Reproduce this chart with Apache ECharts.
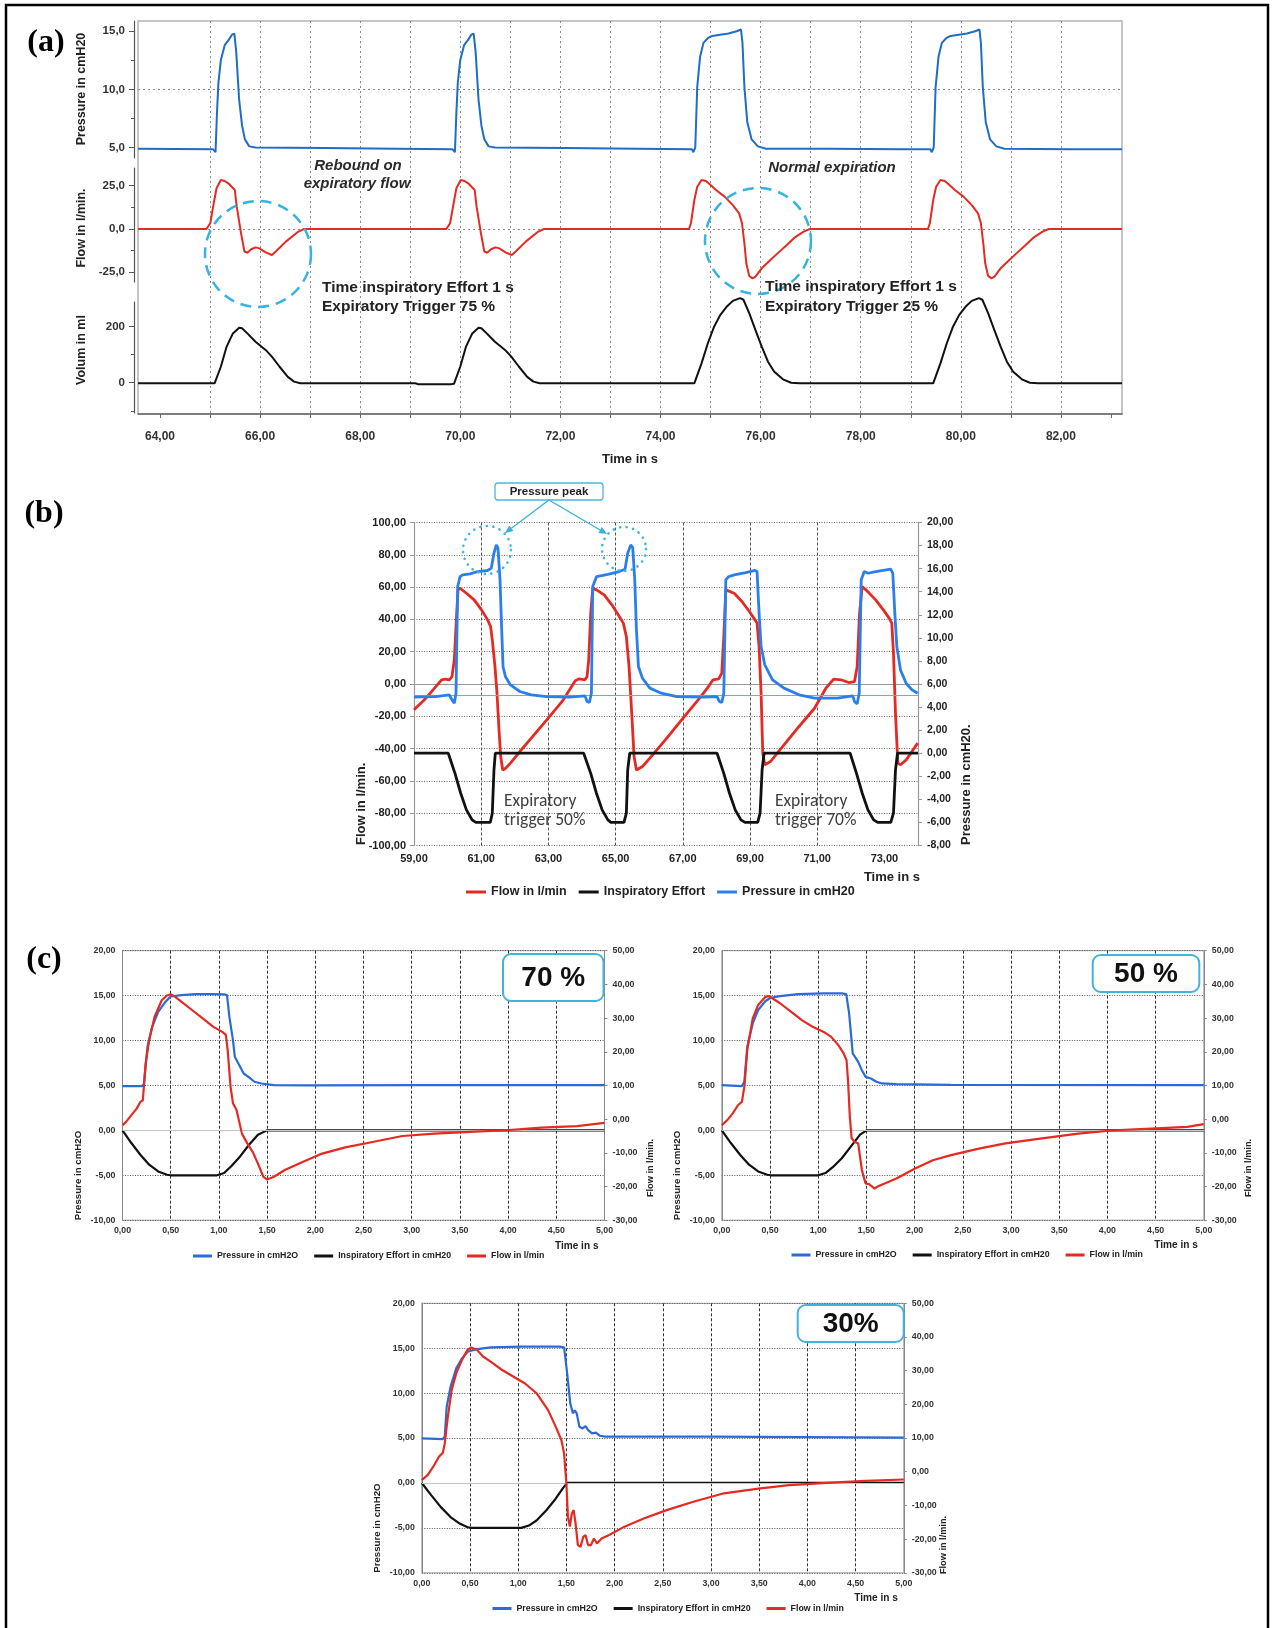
<!DOCTYPE html>
<html>
<head>
<meta charset="utf-8">
<script src="https://cdn.jsdelivr.net/npm/echarts@6.0.0/dist/echarts.min.js"></script>
<style>
html,body{margin:0;padding:0;background:#fff;}
#chart{width:1274px;height:1628px;}
</style>
</head>
<body>
<div id="chart"></div>
<script>
// ================= DATA =================
// Panel (a): ventilator traces, time in s
const aXRange = [63.56, 83.22];
const aTickX = [64,65,66,67,68,69,70,71,72,73,74,75,76,77,78,79,80,81,82,83];
const aLabelX = [64,66,68,70,72,74,76,78,80,82];
const aPressTicks = [5, 10, 15];
const aPressMinor = [7.5, 12.5];
const aFlowTicks = [-25, 0, 25];
const aFlowMinor = [-12.5, 12.5];
const aVolTicks = [0, 200];
const aVolMinor = [-100, 100];

const aPressure = [[63.56,4.9],[65.061,4.85],[65.109,4.6],[65.138,8.0],[65.167,10.6],[65.215,12.5],[65.292,13.8],[65.379,14.3],[65.437,14.7],[65.485,14.8],[65.523,13.2],[65.581,9.1],[65.639,6.9],[65.696,5.7],[65.783,5.1],[65.908,5.0],[67.275,4.95],[68.718,4.9],[69.844,4.85],[69.892,4.6],[69.921,8.0],[69.950,10.6],[69.998,12.5],[70.075,13.8],[70.162,14.3],[70.219,14.7],[70.267,14.8],[70.306,13.2],[70.364,9.1],[70.421,6.9],[70.479,5.7],[70.566,5.1],[70.691,5.0],[72.086,4.95],[73.530,4.9],[74.627,4.85],[74.656,4.6],[74.694,5.0],[74.733,10.2],[74.790,12.8],[74.858,14.0],[74.944,14.4],[75.031,14.6],[75.195,14.7],[75.358,14.8],[75.522,15.0],[75.608,15.15],[75.637,14.0],[75.676,10.2],[75.733,7.2],[75.820,5.7],[75.945,5.1],[76.109,4.9],[77.379,4.9],[78.823,4.85],[79.390,4.85],[79.419,4.6],[79.458,5.0],[79.496,10.2],[79.554,12.8],[79.621,14.0],[79.708,14.4],[79.795,14.6],[79.958,14.7],[80.122,14.8],[80.285,15.0],[80.372,15.15],[80.401,14.0],[80.439,10.2],[80.497,7.2],[80.584,5.7],[80.709,5.1],[80.872,4.9],[82.191,4.85],[83.22,4.85]];

const aFlow = [[63.56,0],[64.927,0],[65.004,3.3],[65.061,12.9],[65.129,23.5],[65.215,28.3],[65.292,27.7],[65.379,26],[65.494,22.5],[65.533,12.9],[65.619,-2.5],[65.687,-13],[65.745,-13.7],[65.822,-11.7],[65.908,-10.6],[65.985,-11.2],[66.110,-13.5],[66.235,-15],[66.312,-13],[66.514,-7.3],[66.765,-1.5],[66.880,0],[69.719,0],[69.796,3.3],[69.854,12.9],[69.921,23.5],[70.008,28.3],[70.085,27.7],[70.171,26],[70.287,22.5],[70.325,12.9],[70.412,-2.5],[70.479,-13],[70.537,-13.7],[70.614,-11.7],[70.701,-10.6],[70.778,-11.2],[70.903,-13.5],[71.028,-15],[71.105,-13],[71.307,-7.3],[71.557,-1.5],[71.672,0],[74.569,0],[74.608,3.3],[74.675,16.7],[74.733,24.4],[74.819,28.3],[74.906,27.7],[74.983,25.8],[75.108,22.5],[75.281,18.7],[75.445,13.8],[75.570,9],[75.628,3.3],[75.676,-8.3],[75.714,-19.8],[75.772,-27.1],[75.839,-28.5],[75.897,-27.5],[76.022,-22.7],[76.195,-17.9],[76.359,-13.5],[76.523,-9.2],[76.686,-4.8],[76.859,-1.5],[76.985,0],[79.342,0],[79.381,3.3],[79.448,16.7],[79.506,24.4],[79.592,28.3],[79.679,27.7],[79.756,25.8],[79.881,22.5],[80.054,18.7],[80.218,13.8],[80.343,9],[80.401,3.3],[80.449,-8.3],[80.487,-19.8],[80.545,-27.1],[80.613,-28.5],[80.670,-27.5],[80.795,-22.7],[80.969,-17.9],[81.132,-13.5],[81.296,-9.2],[81.459,-4.8],[81.633,-1.5],[81.758,0],[83.22,0]];

const aVolume = [[63.56,-2],[65.090,-2],[65.215,57],[65.331,129],[65.456,176],[65.581,196],[65.639,194],[65.745,176],[65.908,146],[66.110,117],[66.235,93],[66.389,57],[66.553,21],[66.678,4],[66.803,-2],[69.103,-2],[69.151,-5],[69.825,-5],[69.873,-4],[69.998,57],[70.114,129],[70.239,176],[70.364,196],[70.421,194],[70.527,176],[70.691,146],[70.893,117],[71.018,93],[71.172,57],[71.336,21],[71.461,4],[71.586,-2],[74.675,-2],[74.819,69],[74.944,140],[75.070,200],[75.195,242],[75.320,271],[75.445,292],[75.589,302],[75.657,296],[75.772,248],[75.897,188],[76.022,129],[76.147,75],[76.272,39],[76.446,12],[76.609,0],[76.773,-2],[79.448,-2],[79.592,69],[79.718,140],[79.843,200],[79.968,242],[80.093,271],[80.218,292],[80.362,302],[80.430,296],[80.545,248],[80.670,188],[80.795,129],[80.920,75],[81.046,39],[81.219,12],[81.382,0],[81.546,-2],[83.22,-2]];

// Panel (b)
const bXTicks = [59,61,63,65,67,69,71,73];
const bFlow = [[59.0,-16],[59.31,-9.8],[59.65,-1.6],[59.82,2.6],[59.93,3.0],[60.05,2.6],[60.13,4.6],[60.20,15],[60.25,35.6],[60.31,58.3],[60.37,59.3],[60.56,56.2],[60.79,52.1],[61.01,45.9],[61.19,39.7],[61.28,35.6],[61.33,27.3],[61.41,10.8],[61.47,-5.7],[61.53,-28.4],[61.58,-44.9],[61.64,-53.2],[61.72,-52.3],[61.87,-49],[62.15,-41.8],[62.49,-33.5],[62.95,-22.2],[63.41,-10.8],[63.63,-3.6],[63.80,2],[63.92,3.2],[64.09,2.6],[64.15,4.6],[64.20,15],[64.26,43.9],[64.32,59.3],[64.43,58.3],[64.66,55.2],[64.89,49],[65.11,41.8],[65.23,37.7],[65.32,29.4],[65.40,10.8],[65.48,-18.1],[65.55,-44.9],[65.62,-53.2],[65.80,-51.1],[66.02,-45.9],[66.48,-34.6],[67.05,-20.1],[67.50,-8.8],[67.73,-2.6],[67.90,2.6],[68.07,3.2],[68.16,6.7],[68.22,29.4],[68.28,58.3],[68.32,59.3],[68.53,56.2],[68.76,51.1],[68.98,44.9],[69.15,39.7],[69.21,37.7],[69.27,23.2],[69.33,-5.7],[69.38,-42.8],[69.44,-50],[69.61,-48],[69.89,-40.8],[70.46,-26.3],[70.92,-15],[71.26,-2.6],[71.49,3.0],[71.71,2.6],[71.94,0.9],[72.11,1.5],[72.19,10.8],[72.26,43.9],[72.34,60.4],[72.45,58.3],[72.74,52.1],[72.97,45.9],[73.14,40.8],[73.22,37.7],[73.27,19.1],[73.33,-18.1],[73.40,-49],[73.48,-50],[73.65,-47],[73.82,-41.8],[73.99,-36.6]];
const bEffort = [[59.0,0],[60.02,0],[60.22,-1.75],[60.39,-3.47],[60.56,-4.91],[60.73,-5.78],[60.84,-6],[61.27,-6],[61.33,-5.2],[61.38,-1.45],[61.42,0],[64.05,0],[64.26,-1.75],[64.43,-3.47],[64.60,-4.91],[64.77,-5.78],[64.86,-6],[65.25,-6],[65.32,-5.2],[65.36,-1.45],[65.42,0],[68.02,0],[68.22,-1.75],[68.39,-3.47],[68.56,-4.91],[68.73,-5.78],[68.85,-6],[69.23,-6],[69.30,-5.2],[69.36,-1.45],[69.42,0],[71.98,0],[72.17,-1.75],[72.34,-3.47],[72.51,-4.91],[72.68,-5.78],[72.80,-6],[73.19,-6],[73.27,-5.2],[73.33,-1.45],[73.39,0],[74.0,0]];
const bPressure = [[59.0,4.86],[59.65,4.91],[60.05,5.06],[60.13,4.62],[60.20,4.34],[60.25,5.2],[60.30,14.45],[60.37,15.3],[60.45,15.46],[60.67,15.55],[60.90,15.75],[61.19,15.84],[61.30,16.04],[61.38,17.34],[61.45,18.06],[61.50,17.77],[61.56,15.03],[61.61,10.7],[61.65,7.51],[61.72,6.65],[61.87,5.92],[62.15,5.35],[62.49,5.06],[62.95,4.91],[63.63,4.86],[64.09,4.97],[64.15,4.48],[64.22,4.39],[64.28,5.2],[64.32,14.45],[64.43,15.3],[64.77,15.5],[65.11,15.75],[65.28,15.95],[65.36,17.34],[65.45,18.06],[65.51,17.8],[65.57,15.03],[65.62,10.7],[65.68,7.5],[65.80,6.5],[66.02,5.64],[66.36,5.2],[66.82,4.91],[67.62,4.86],[68.02,4.91],[68.09,4.48],[68.16,4.39],[68.22,5.2],[68.28,15.03],[68.36,15.3],[68.53,15.46],[68.87,15.66],[69.15,15.84],[69.21,15.75],[69.27,12.14],[69.33,9.25],[69.44,7.66],[69.67,6.36],[70.01,5.64],[70.46,5.06],[70.92,4.77],[71.60,4.77],[72.06,4.97],[72.11,4.48],[72.19,4.28],[72.25,5.2],[72.31,15.03],[72.40,15.75],[72.51,15.6],[72.74,15.75],[73.19,15.95],[73.25,15.6],[73.31,12.14],[73.37,9.25],[73.48,7.2],[73.65,6.04],[73.82,5.5],[73.99,5.2]];

// Panel (c): 70 %, 50 %, 30 % expiratory trigger
const c70Pressure = [[0,4.92],[0.20,4.92],[0.222,5.15],[0.259,9.3],[0.307,11.5],[0.37,13.2],[0.444,14.3],[0.499,14.9],[0.61,15.06],[0.758,15.17],[0.906,15.17],[1.054,15.13],[1.084,15.06],[1.109,12.6],[1.146,10.05],[1.165,8.2],[1.202,7.45],[1.257,6.33],[1.313,5.89],[1.368,5.41],[1.442,5.22],[1.572,5.04],[1.942,5.0],[3.051,5.04],[5.0,5.04]];
const c70Effort = [[0,0],[0.092,-1.41],[0.185,-2.71],[0.277,-3.82],[0.37,-4.57],[0.462,-4.94],[0.499,-5],[0.98,-5],[1.054,-4.75],[1.128,-4.0],[1.22,-2.9],[1.313,-1.6],[1.405,-0.48],[1.498,0],[5,0]];
const c70Flow = [[0,-1.8],[0.037,-0.8],[0.092,1.2],[0.148,3.2],[0.185,5.1],[0.211,5.6],[0.24,16.5],[0.277,23.5],[0.333,30.4],[0.407,35.3],[0.462,36.7],[0.499,37.1],[0.536,36.5],[0.61,34.9],[0.721,32.4],[0.832,29.9],[0.943,27.4],[1.036,25.9],[1.072,25],[1.091,20.5],[1.121,9.6],[1.146,4.7],[1.183,2.7],[1.239,-4.3],[1.294,-7.2],[1.35,-9.7],[1.405,-13.2],[1.461,-17.1],[1.498,-17.9],[1.572,-17.1],[1.683,-15.1],[1.868,-12.7],[2.052,-10.4],[2.311,-8.4],[2.607,-6.7],[2.903,-5],[3.236,-4.3],[3.606,-3.8],[3.976,-3.3],[4.345,-2.5],[4.715,-2.1],[5.0,-1.1]];
const c50Pressure = [[0,5.04],[0.208,4.92],[0.234,5.41],[0.264,9.3],[0.321,11.9],[0.377,13.4],[0.453,14.4],[0.509,14.76],[0.604,14.95],[0.792,15.17],[1.057,15.25],[1.245,15.25],[1.291,15.17],[1.321,13.0],[1.358,8.56],[1.415,7.63],[1.453,6.7],[1.491,5.96],[1.547,5.78],[1.604,5.41],[1.66,5.22],[1.811,5.15],[2.377,5.07],[5,5.04]];
const c50Effort = [[0,0],[0.094,-1.41],[0.189,-2.71],[0.283,-3.82],[0.377,-4.57],[0.472,-4.94],[0.509,-5],[1.0,-5],[1.075,-4.75],[1.151,-4.1],[1.245,-3.1],[1.34,-1.78],[1.434,-0.48],[1.502,0],[5,0]];
const c50Flow = [[0,-1.8],[0.057,-0.3],[0.113,1.7],[0.17,4.2],[0.208,5.1],[0.234,9.6],[0.264,20.5],[0.321,29.9],[0.377,33.9],[0.453,36.3],[0.491,36.5],[0.528,35.8],[0.604,34.4],[0.717,31.9],[0.83,29.4],[0.943,27.4],[1.057,25.9],[1.132,24.5],[1.208,22],[1.264,19.5],[1.294,17.5],[1.309,11.6],[1.328,0.7],[1.347,-5.7],[1.377,-6.7],[1.415,-7.2],[1.453,-15.1],[1.491,-19.1],[1.528,-19.3],[1.585,-20.6],[1.623,-19.9],[1.811,-17.6],[2.0,-14.7],[2.189,-12.2],[2.377,-10.7],[2.679,-8.7],[2.943,-7.2],[3.321,-5.7],[3.698,-4.3],[4.075,-3.3],[4.453,-2.8],[4.83,-2.3],[5,-1.5]];
const c30Pressure = [[0,4.96],[0.218,4.89],[0.238,5.15],[0.258,8.49],[0.298,10.7],[0.357,12.76],[0.417,13.87],[0.476,14.6],[0.556,14.87],[0.714,15.1],[1.032,15.17],[1.429,15.17],[1.476,15.1],[1.508,12.2],[1.54,8.86],[1.567,7.75],[1.587,8.1],[1.607,7.75],[1.635,6.26],[1.667,6.07],[1.698,6.33],[1.726,5.89],[1.766,5.52],[1.806,5.6],[1.845,5.26],[1.905,5.15],[2.222,5.15],[3.016,5.15],[5,5.04]];
const c30Effort = [[0,0],[0.099,-1.38],[0.198,-2.69],[0.298,-3.8],[0.397,-4.55],[0.476,-4.93],[0.516,-5],[1.032,-5],[1.111,-4.74],[1.19,-4.18],[1.29,-3.06],[1.389,-1.75],[1.468,-0.52],[1.508,0],[5,0]];
const c30Flow = [[0,-2.5],[0.06,-1],[0.119,1.5],[0.179,4.5],[0.218,5.6],[0.238,8.4],[0.27,16.3],[0.31,24.3],[0.357,29.2],[0.417,33.2],[0.476,36.3],[0.516,36.9],[0.575,36.1],[0.635,34.2],[0.714,32.7],[0.833,30.2],[0.952,28.2],[1.071,26.2],[1.19,23.3],[1.31,18.3],[1.389,13.4],[1.448,9.4],[1.476,5.4],[1.5,-3.5],[1.516,-13.4],[1.536,-16.3],[1.556,-12.4],[1.575,-11.4],[1.595,-15.3],[1.619,-21.8],[1.647,-22.3],[1.675,-19.3],[1.698,-18.8],[1.726,-21.8],[1.754,-21.8],[1.786,-19.8],[1.817,-21.3],[1.865,-19.8],[1.944,-18.8],[2.103,-16.3],[2.302,-13.9],[2.54,-11.4],[2.817,-8.9],[3.135,-6.4],[3.492,-5],[3.81,-4],[4.206,-3.3],[4.603,-2.7],[5,-2.3]];

// ================= RENDER =================
function fontOK(f){
  const c=document.createElement('canvas').getContext('2d');
  const s='abcdefghijklmnopqrstuvwxyz0123456789ABCDEF';
  c.font='40px monospace'; const a=c.measureText(s).width;
  c.font='40px "'+f+'", monospace'; const b=c.measureText(s).width;
  return Math.abs(a-b)>1;
}
const HAS_N = fontOK('Liberation Sans Narrow');
const FN = HAS_N ? 'Liberation Sans Narrow' : 'Liberation Sans';
const nsz = s => HAS_N ? s : +(s*0.84).toFixed(1);
const FS = 'Liberation Sans';

const fmt = d => v => Number(v).toFixed(d).replace('.', ',');
const RED = '#e42a22', BLUE_A = '#1f6dc6', BLUE_B = '#2b7fec', BLUE_C = '#2a6bd8', BLACK = '#111', CYAN = '#36b3de';

const grids=[], xAxes=[], yAxes=[], series=[], legends=[], G=[];
function addGrid(g){ grids.push(Object.assign({containLabel:false, outerBoundsMode:'none'}, g)); return grids.length-1; }
function T(text,x,y,o){ o=o||{}; return {type:'text', x:x, y:y, rotation:o.rot||0, z:100, style:{text:text, fill:o.color||'#222', fontSize:o.size||12, fontWeight:o.weight||'bold', fontStyle:o.style||'normal', fontFamily:o.family||FS, textAlign:o.align||'center', textVerticalAlign:'middle'}}; }
const R90 = Math.PI/2;

// ---------- Panel (a) ----------
const A = {l:138, r:1122, t:21, b:414};
const gA = addGrid({left:A.l, top:A.t, width:A.r-A.l, height:A.b-A.t, show:true, borderColor:'#b3b3b3', borderWidth:1.5, backgroundColor:'transparent'});
xAxes.push({gridIndex:gA, type:'value', min:aXRange[0], max:aXRange[1], splitNumber:20, position:'bottom', offset:8,
  axisLine:{show:true, lineStyle:{color:'#666', width:1.5}},
  axisTick:{show:true, customValues:aTickX, length:4, lineStyle:{color:'#666'}},
  axisLabel:{customValues:aLabelX, formatter:fmt(2), margin:9, color:'#333', fontWeight:'bold', fontSize:12, fontFamily:FS},
  splitLine:{show:true, showMinLine:false, showMaxLine:false, lineStyle:{color:'#8a8a8a', type:[2,3], width:1}},
  name:'Time in s', nameLocation:'middle', nameGap:31, nameTextStyle:{fontWeight:'bold', fontSize:13, color:'#222', fontFamily:FS}});
yAxes.push({gridIndex:gA, type:'value', min:0, max:1, show:false});

function aSub(top, h, yMin, yMax, ticks, minor, split, dec, data, color, clip, name){
  const g = addGrid({left:A.l, top:top, width:A.r-A.l, height:h});
  const xi = xAxes.push({gridIndex:g, type:'value', min:aXRange[0], max:aXRange[1], show:false})-1;
  const yi = yAxes.push({gridIndex:g, type:'value', min:yMin, max:yMax, splitNumber:split, position:'left', offset:4,
    axisLine:{show:true, lineStyle:{color:'#555', width:1.2}},
    axisTick:{show:true, customValues:ticks, length:5, lineStyle:{color:'#555'}},
    axisLabel:{customValues:ticks, formatter:fmt(dec), margin:9, color:'#333', fontWeight:'bold', fontSize:11.5, fontFamily:FS},
    splitLine:{show:true, showMinLine:false, showMaxLine:false, lineStyle:{color:'#8a8a8a', type:[2,3], width:1}}})-1;
  yAxes.push({gridIndex:g, type:'value', min:yMin, max:yMax, position:'left', offset:4,
    axisLine:{show:false}, axisLabel:{show:false}, splitLine:{show:false},
    axisTick:{show:true, customValues:minor, length:3, lineStyle:{color:'#555'}}});
  series.push({name:name, type:'line', xAxisIndex:xi, yAxisIndex:yi, data:data, showSymbol:false, symbol:'none', lineStyle:{color:color, width:2}, itemStyle:{color:color}, clip:clip, silent:true, z:3});
}
aSub(21, 137, 4.1, 15.88, aPressTicks, aPressMinor, 2, 1, aPressure, BLUE_A, false, 'a-pressure');
aSub(168, 114, -30.6, 35.2, aFlowTicks, aFlowMinor, 3, 1, aFlow, RED, true, 'a-flow');
aSub(302, 111, -108, 288, aVolTicks, aVolMinor, 2, 0, aVolume, BLACK, false, 'a-volume');

G.push(T('(a)', 46, 43, {family:'Liberation Serif', size:32, color:'#000'}));
G.push(T('Pressure in cmH20', 82, 89, {rot:R90, size:12.5}));
G.push(T('Flow in l/min.', 82, 228, {rot:R90, size:12.5}));
G.push(T('Volum in ml', 82, 350, {rot:R90, size:12.5}));
G.push(T('Rebound on', 358, 166, {size:15, style:'italic', color:'#2a2a2a'}));
G.push(T('expiratory flow', 357, 184, {size:15, style:'italic', color:'#2a2a2a'}));
G.push(T('Time inspiratory Effort 1 s', 322, 288, {size:15.5, align:'left', color:'#222'}));
G.push(T('Expiratory Trigger 75 %', 322, 307, {size:15.5, align:'left', color:'#222'}));
G.push(T('Normal expiration', 832, 168, {size:15, style:'italic', color:'#2a2a2a'}));
G.push(T('Time inspiratory Effort 1 s', 765, 287, {size:15.5, align:'left', color:'#222'}));
G.push(T('Expiratory Trigger 25 %', 765, 307, {size:15.5, align:'left', color:'#222'}));
G.push({type:'circle', z:90, shape:{cx:258, cy:254, r:53}, style:{fill:'none', stroke:CYAN, lineWidth:2.5, lineDash:[11,7]}});
G.push({type:'circle', z:90, shape:{cx:758, cy:241, r:53}, style:{fill:'none', stroke:CYAN, lineWidth:2.5, lineDash:[11,7]}});

// ---------- Panel (b) ----------
const B = {l:414, t:522.5, w:504, h:323};
const gB = addGrid({left:B.l, top:B.t, width:B.w, height:B.h});
const bx = xAxes.push({gridIndex:gB, type:'value', min:59, max:74, interval:2,
  axisLine:{show:true, lineStyle:{color:'#999', width:1.2}},
  axisTick:{show:false, customValues:bXTicks},
  axisLabel:{customValues:bXTicks, formatter:fmt(2), margin:8, color:'#222', fontWeight:'bold', fontSize:11, fontFamily:FS},
  splitLine:{show:true, showMinLine:false, showMaxLine:false, lineStyle:{color:'#555', type:[3,2], width:1}}})-1;
const byL = yAxes.push({gridIndex:gB, type:'value', min:-100, max:100, interval:20, position:'left',
  axisLine:{show:true, lineStyle:{color:'#999', width:1.2}},
  axisTick:{show:true, length:4, lineStyle:{color:'#999'}},
  axisLabel:{formatter:fmt(2), margin:8, color:'#222', fontWeight:'bold', fontSize:11, fontFamily:FS},
  splitLine:{show:true, lineStyle:{color:'#6a6a6a', type:[1,1.5], width:1}}})-1;
const byR = yAxes.push({gridIndex:gB, type:'value', min:-8, max:20, interval:2, position:'right',
  axisLine:{show:true, lineStyle:{color:'#999', width:1.2}},
  axisTick:{show:true, length:4, lineStyle:{color:'#999'}},
  axisLabel:{formatter:fmt(2), margin:9, color:'#222', fontWeight:'bold', fontSize:10.5, fontFamily:FS},
  splitLine:{show:false}})-1;
series.push({name:'Flow in l/min', type:'line', xAxisIndex:bx, yAxisIndex:byL, data:bFlow, showSymbol:false, symbol:'none', lineStyle:{color:RED, width:2.8}, itemStyle:{color:RED}, silent:true, z:3});
series.push({name:'Inspiratory Effort', type:'line', xAxisIndex:bx, yAxisIndex:byR, data:bEffort, showSymbol:false, symbol:'none', lineStyle:{color:BLACK, width:2.8}, itemStyle:{color:BLACK}, silent:true, z:4});
series.push({name:'Pressure in cmH20', type:'line', xAxisIndex:bx, yAxisIndex:byR, data:bPressure, showSymbol:false, symbol:'none', lineStyle:{color:BLUE_B, width:2.8}, itemStyle:{color:BLUE_B}, silent:true, z:5,
  markLine:{silent:true, symbol:'none', label:{show:false}, lineStyle:{color:'#86a3cc', width:1, type:'solid'}, data:[{yAxis:5}]}});
legends.push({data:['Flow in l/min','Inspiratory Effort','Pressure in cmH20'], left:466, top:885.5, padding:0, icon:'rect', itemWidth:20, itemHeight:3, itemGap:12, selectedMode:false, textStyle:{fontWeight:'bold', fontSize:12.5, color:'#222', fontFamily:FS}});

const CAL = 'Carlito, Lato, "Liberation Sans"';
G.push(T('(b)', 44, 514, {family:'Liberation Serif', size:32, color:'#000'}));
G.push(T('Flow in l/min.', 361, 845, {rot:R90, size:13, align:'left'}));
G.push(T('Pressure in cmH20.', 966, 845, {rot:R90, size:13, align:'left'}));
G.push(T('Time in s', 920, 877, {size:13, align:'right'}));
G.push(T('Expiratory', 504, 802, {size:17.5, weight:'normal', family:CAL, align:'left', color:'#404040'}));
G.push(T('trigger 50%', 504, 821, {size:17.5, weight:'normal', family:CAL, align:'left', color:'#404040'}));
G.push(T('Expiratory', 775, 802, {size:17.5, weight:'normal', family:CAL, align:'left', color:'#404040'}));
G.push(T('trigger 70%', 775, 821, {size:17.5, weight:'normal', family:CAL, align:'left', color:'#404040'}));
G.push({type:'rect', z:95, shape:{x:495, y:483, width:108, height:17, r:3}, style:{fill:'#fff', stroke:'#4fb6da', lineWidth:1.3}});
G.push(T('Pressure peak', 549, 491.5, {size:11.5}));
function arrow(x1,y1,x2,y2,color){
  const a=Math.atan2(y2-y1,x2-x1), L=8, W=3.5;
  const ex=x2-L*Math.cos(a), ey=y2-L*Math.sin(a);
  const px=-Math.sin(a)*W, py=Math.cos(a)*W;
  return [{type:'line', z:95, shape:{x1:x1,y1:y1,x2:ex,y2:ey}, style:{stroke:color, lineWidth:1.3}},
          {type:'polygon', z:95, shape:{points:[[x2,y2],[ex+px,ey+py],[ex-px,ey-py]]}, style:{fill:color}}];
}
G.push(...arrow(549,500,505,533,'#3aafd8'));
G.push(...arrow(549,500,607,534,'#3aafd8'));
G.push({type:'circle', z:90, shape:{cx:487, cy:550, r:24}, style:{fill:'none', stroke:'#3fb4dc', lineWidth:2.6, lineDash:[0.1,6.5], lineCap:'round'}});
G.push({type:'circle', z:90, shape:{cx:624, cy:549, r:22}, style:{fill:'none', stroke:'#3fb4dc', lineWidth:2.6, lineDash:[0.1,6.5], lineCap:'round'}});

// ---------- Panel (c) ----------
const cNames = ['Pressure in cmH2O','Inspiratory Effort in cmH20','Flow in l/min'];
function cChart(L, Tp, pData, eData, fData, o){
  const W=482, H=269.5;
  const g = addGrid({left:L, top:Tp, width:W, height:H, show:true, borderColor:'#a0a0a0', borderWidth:1, backgroundColor:'transparent'});
  const xi = xAxes.push({gridIndex:g, type:'value', min:0, max:5, interval:0.5,
    axisLine:{show:true, lineStyle:{color:'#888'}}, axisTick:{show:false},
    axisLabel:{formatter:fmt(2), margin:6, color:'#333', fontWeight:'bold', fontSize:nsz(10.5), fontFamily:FN},
    splitLine:{show:true, lineStyle:{color:'#333', type:[3,2], width:1}}})-1;
  const yl = yAxes.push({gridIndex:g, type:'value', min:-10, max:20, interval:5, position:'left',
    axisLine:{show:true, lineStyle:{color:'#888'}}, axisTick:{show:false},
    axisLabel:{formatter:fmt(2), margin:7, color:'#333', fontWeight:'bold', fontSize:nsz(10.5), fontFamily:FN},
    splitLine:{show:true, lineStyle:{color:'#555', type:[1,1.5], width:1}}})-1;
  const yr = yAxes.push({gridIndex:g, type:'value', min:-30, max:50, interval:10, position:'right',
    axisLine:{show:true, lineStyle:{color:'#888'}}, axisTick:{show:true, length:3, lineStyle:{color:'#888'}},
    axisLabel:{formatter:fmt(2), margin:8, color:'#333', fontWeight:'bold', fontSize:nsz(10.5), fontFamily:FN},
    splitLine:{show:false}})-1;
  series.push({name:cNames[0], type:'line', xAxisIndex:xi, yAxisIndex:yl, data:pData, showSymbol:false, symbol:'none', lineStyle:{color:BLUE_C, width:2.2}, itemStyle:{color:BLUE_C}, silent:true, z:3});
  series.push({name:cNames[1], type:'line', xAxisIndex:xi, yAxisIndex:yl, data:eData, showSymbol:false, symbol:'none', lineStyle:{color:BLACK, width:2.2}, itemStyle:{color:BLACK}, silent:true, z:4,
    markLine:{silent:true, symbol:'none', label:{show:false}, lineStyle:{color:'#c4c4c4', width:1, type:'solid'}, data:[{yAxis:0}]}});
  series.push({name:cNames[2], type:'line', xAxisIndex:xi, yAxisIndex:yr, data:fData, showSymbol:false, symbol:'none', lineStyle:{color:RED, width:2.2}, itemStyle:{color:RED}, silent:true, z:5});
  legends.push({data:cNames, left:o.legL, top:o.legY-6, padding:0, icon:'rect', itemWidth:19, itemHeight:3, itemGap:16, selectedMode:false, textStyle:{fontWeight:'bold', fontSize:nsz(10.5), color:'#222', fontFamily:FN}});
  G.push(T('Pressure in cmH2O', L-44, Tp+H, {rot:R90, size:nsz(11.5), align:'left', family:FN}));
  G.push(T('Flow in l/min.', o.rtX, o.rtY, {rot:R90, size:nsz(11), family:FN}));
  G.push(T('Time in s', L+W-6, o.timeY, {size:nsz(12), align:'right', family:FN}));
  G.push({type:'rect', z:95, shape:{x:o.box[0], y:o.box[1], width:o.box[2], height:o.box[3], r:8}, style:{fill:'#fff', stroke:'#45b3d8', lineWidth:2}});
  G.push(T(o.label, o.box[0]+o.box[2]/2, o.box[1]+o.box[3]/2+1, {size:28, color:'#111'}));
}
cChart(122.5, 950.7, c70Pressure, c70Effort, c70Flow, {legL:193, legY:1257.5, rtX:650, rtY:1168, timeY:1246, box:[503,954,100.5,47], label:'70 %'});
cChart(721.8, 950.7, c50Pressure, c50Effort, c50Flow, {legL:791.5, legY:1256.5, rtX:1248, rtY:1168, timeY:1245.5, box:[1092.7,955,106.6,37], label:'50 %'});
cChart(421.8, 1303.3, c30Pressure, c30Effort, c30Flow, {legL:492.5, legY:1610, rtX:943, rtY:1545, timeY:1598, box:[797.7,1305,106,37], label:'30%'});
G.push(T('(c)', 44, 960, {family:'Liberation Serif', size:32, color:'#000'}));

// outer border
G.push({type:'rect', z:99, shape:{x:6, y:5, width:1262, height:1640}, style:{fill:'none', stroke:'#000', lineWidth:2.5}});

const chart = echarts.init(document.getElementById('chart'), null, {renderer:'canvas'});
chart.setOption({
  animation:false,
  backgroundColor:'#fff',
  textStyle:{fontFamily:FS},
  grid:grids, xAxis:xAxes, yAxis:yAxes, series:series, legend:legends,
  graphic:{elements:G}
});
</script>
</body>
</html>
